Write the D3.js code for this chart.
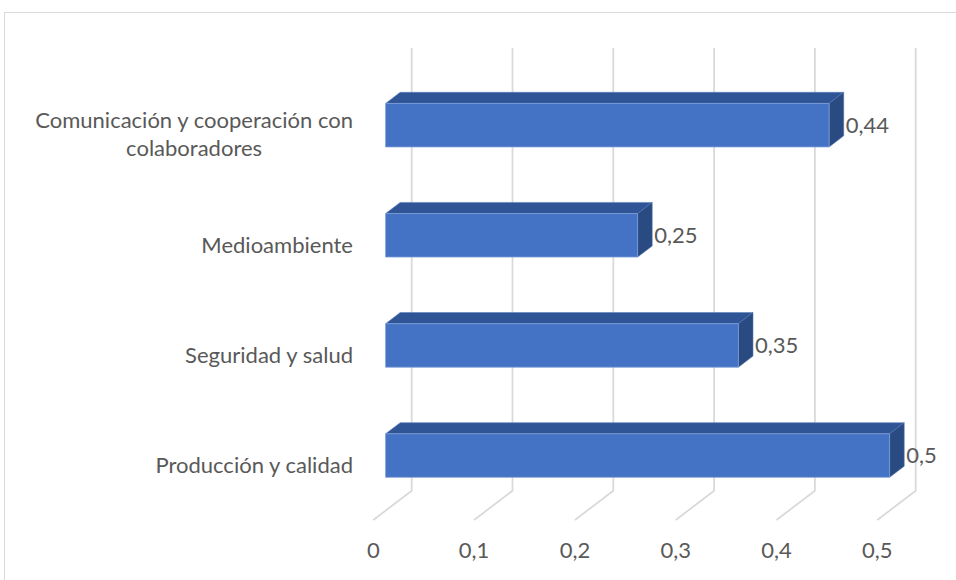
<!DOCTYPE html>
<html><head><meta charset="utf-8">
<script src="https://cdn.jsdelivr.net/npm/d3@7"></script>
<style>html,body{margin:0;padding:0;background:#fff;} svg{display:block;}</style>
</head><body>
<svg id="chart" width="956" height="580"></svg>
<script>
const categories = ["Comunicación y cooperación con colaboradores", "Medioambiente", "Seguridad y salud", "Producción y calidad"];
const categoryLines = [["Comunicación y cooperación con", "colaboradores"], ["Medioambiente"], ["Seguridad y salud"], ["Producción y calidad"]];
const values = [0.44, 0.25, 0.35, 0.5];
const valueLabels = ["0,44", "0,25", "0,35", "0,5"];
const ticks = [0, 0.1, 0.2, 0.3, 0.4, 0.5];
const tickLabels = ["0", "0,1", "0,2", "0,3", "0,4", "0,5"];

const svg = d3.select("#chart");
const FONT = "Lato, 'Open Sans', sans-serif";
const TXT = "#595959";

// measure font size so that the widest label line matches
const probe = svg.append("text").attr("font-family", FONT).attr("font-size", 24).text(categoryLines[0][0]);
const w24 = probe.node().getComputedTextLength();
probe.remove();
const FS = Math.max(16, Math.min(26, 24 * 318 / w24));

// border
svg.append("rect").attr("x", 4.5).attr("y", 12.5).attr("width", 1000).attr("height", 1000)
  .attr("fill", "none").attr("stroke", "#d9d9d9").attr("stroke-width", 1);

// 3D geometry
const DX = 38.4, DY = 29.3;
const wallTop = 48, floorFront = 520;
const x = d3.scaleLinear().domain([0, 0.5]).range([373.3, 877.3]);
const y = d3.scaleBand().domain(categories).range([79.5, 520]).paddingInner(0.605).paddingOuter(0.3025);
const z0 = 0.32, z1 = 0.70;

// gridlines (back wall + floor)
svg.append("g").selectAll("path").data(ticks).join("path")
  .attr("d", t => `M${x(t) + DX},${wallTop} L${x(t) + DX},${floorFront - DY} L${x(t)},${floorFront}`)
  .attr("fill", "none").attr("stroke", "#d9d9d9").attr("stroke-width", 1.75);

// bars
const bars = svg.append("g").selectAll("g").data(categories).join("g");
bars.each(function (c, i) {
  const g = d3.select(this);
  const v = values[i];
  const yT = y(c), yB = y(c) + y.bandwidth();
  const fx0 = x(0) + DX * z0, fx1 = x(v) + DX * z0, fyT = yT - DY * z0, fyB = yB - DY * z0;
  const bx0 = x(0) + DX * z1, bx1 = x(v) + DX * z1, byT = yT - DY * z1, byB = yB - DY * z1;
  g.append("polygon").attr("points", [[fx0, fyT], [fx1, fyT], [bx1, byT], [bx0, byT]].join(" "))
    .attr("fill", "#2F5597").attr("stroke", "#5a7fc0").attr("stroke-width", 0.6);
  g.append("polygon").attr("points", [[fx1, fyT], [bx1, byT], [bx1, byB], [fx1, fyB]].join(" "))
    .attr("fill", "#2A4A82").attr("stroke", "#4f6fa8").attr("stroke-width", 0.6);
  g.append("polygon").attr("points", [[fx0, fyT], [fx1, fyT], [fx1, fyB], [fx0, fyB]].join(" "))
    .attr("fill", "#4472C4").attr("stroke", "#7e9ed8").attr("stroke-width", 0.8);
  g.append("text").attr("x", bx1 + 2).attr("y", (fyT + fyB) / 2).attr("dy", "0.36em")
    .attr("font-family", FONT).attr("font-size", FS).attr("fill", TXT).text(valueLabels[i]);
});

// category labels
const labelRight = 353;
categories.forEach((c, i) => {
  const lines = categoryLines[i];
  const cy = y(c) + y.bandwidth() / 2;
  const lh = 28;
  const t = svg.append("text").attr("font-family", FONT).attr("font-size", FS).attr("fill", TXT);
  if (lines.length === 1) {
    t.attr("x", labelRight).attr("y", cy).attr("dy", "0.36em").attr("text-anchor", "end").text(lines[0]);
  } else {
    const tmp = svg.append("text").attr("font-family", FONT).attr("font-size", FS).text(lines[0]);
    const w = tmp.node().getComputedTextLength();
    tmp.remove();
    const cx = labelRight - w / 2;
    t.attr("text-anchor", "middle");
    lines.forEach((ln, k) => {
      t.append("tspan").attr("x", cx).attr("y", cy + (k - (lines.length - 1) / 2) * lh).attr("dy", "0.36em").text(ln);
    });
  }
});

// value axis tick labels
svg.append("g").selectAll("text").data(ticks).join("text")
  .attr("x", t => x(t)).attr("y", 558).attr("text-anchor", "middle")
  .attr("font-family", FONT).attr("font-size", FS).attr("fill", TXT)
  .text((t, i) => tickLabels[i]);
</script>
</body></html>
